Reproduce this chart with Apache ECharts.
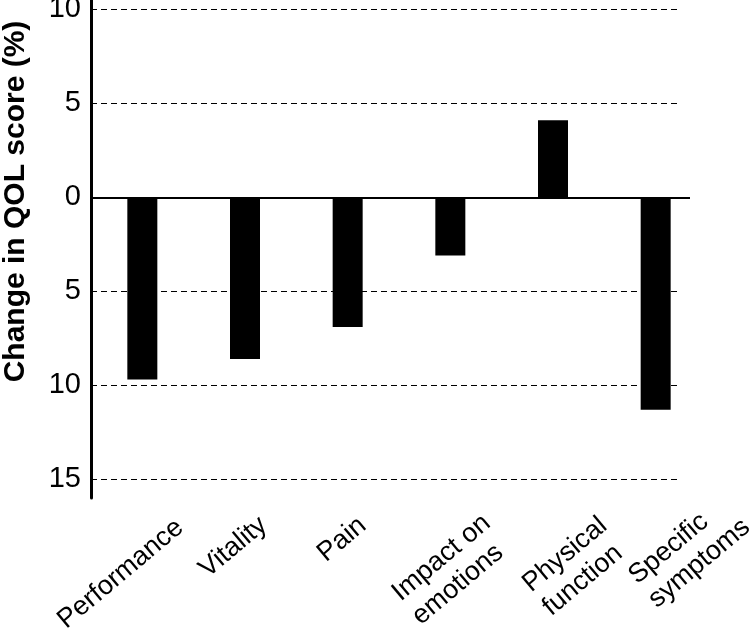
<!DOCTYPE html>
<html>
<head>
<meta charset="utf-8">
<script src="https://cdn.jsdelivr.net/npm/echarts@6/dist/echarts.min.js"></script>
<style>html,body{margin:0;padding:0;background:#fff}#c{width:750px;height:636px}</style>
</head>
<body>
<div id="c"></div>
<script>
var categories = ['Performance', 'Vitality', 'Pain', 'Impact on\nemotions', 'Physical\nfunction', 'Specific\nsymptoms'];
var changeValues = [-9.7, -8.6, -6.9, -3.1, 4.1, -11.3];
var gridValues = [10, 5, -5, -10, -15];
var tickValues = [10, 5, 0, -5, -10, -15];
var yTitle = 'Change in QOL score (%)';
// label placement (styling only): [shift back along text, shift down across text] in px
var labelShift = [[42, 93], [55, 79], [58, 77], [40, 89], [31, 100], [1, 96]];

var FONT = 'Liberation Sans, Arial, Helvetica, sans-serif';
var chart = echarts.init(document.getElementById('c'), null, {renderer: 'canvas'});

var markData = gridValues.map(function (v) {
  return [{x: 91, yAxis: v, lineStyle: {type: [6, 4], width: 1, color: '#000'}}, {x: 680, yAxis: v}];
});
markData.push([{x: 91, yAxis: 0, lineStyle: {type: 'solid', width: 2, color: '#000'}}, {x: 690, yAxis: 0}]);

var rich = {l: {align: 'left', fontSize: 27, lineHeight: 31, color: '#000', fontFamily: FONT}};
labelShift.forEach(function (s, i) {
  rich['v' + i] = {align: 'left', fontSize: 1, lineHeight: s[1]};
  rich['w' + i] = {align: 'left', fontSize: 1, lineHeight: 31, width: s[0]};
});

chart.setOption({
  animation: false,
  backgroundColor: '#fff',
  grid: {left: 91, right: 43, top: 0, bottom: 138, containLabel: false, outerBoundsMode: 'none'},
  xAxis: {
    type: 'category',
    data: categories,
    axisLine: {show: false, onZero: false},
    axisTick: {show: false},
    splitLine: {show: false},
    axisLabel: {
      interval: 0,
      rotate: 40,
      margin: -84,
      verticalAlign: 'top',
      fontSize: 27,
      lineHeight: 31,
      color: '#000',
      fontFamily: FONT,
      formatter: function (v, i) {
        var lines = ['{v' + i + '| }'];
        v.split('\n').forEach(function (s) { lines.push('{l|' + s + '}{w' + i + '| }'); });
        return lines.join('\n');
      },
      rich: rich
    }
  },
  yAxis: {
    type: 'value',
    min: -16,
    max: 10.5,
    interval: 1,
    axisLine: {show: true, lineStyle: {color: '#000', width: 3}},
    axisTick: {show: false},
    splitLine: {show: false},
    axisLabel: {
      fontSize: 29,
      color: '#000',
      fontFamily: FONT,
      margin: 10,
      formatter: function (v) {
        return tickValues.indexOf(v) >= 0 ? String(Math.abs(v)) : '';
      }
    },
    name: yTitle,
    nameLocation: 'middle',
    nameGap: 60,
    nameTextStyle: {
      fontSize: 30,
      fontWeight: 'bold',
      color: '#000',
      fontFamily: FONT,
      padding: [0, 0, 0, 95]
    }
  },
  series: [{
    type: 'bar',
    data: changeValues,
    barWidth: 30,
    itemStyle: {color: '#000'},
    z: 3,
    markLine: {
      silent: true,
      symbol: 'none',
      label: {show: false},
      z: 2,
      data: markData
    }
  }]
});
</script>
</body>
</html>
